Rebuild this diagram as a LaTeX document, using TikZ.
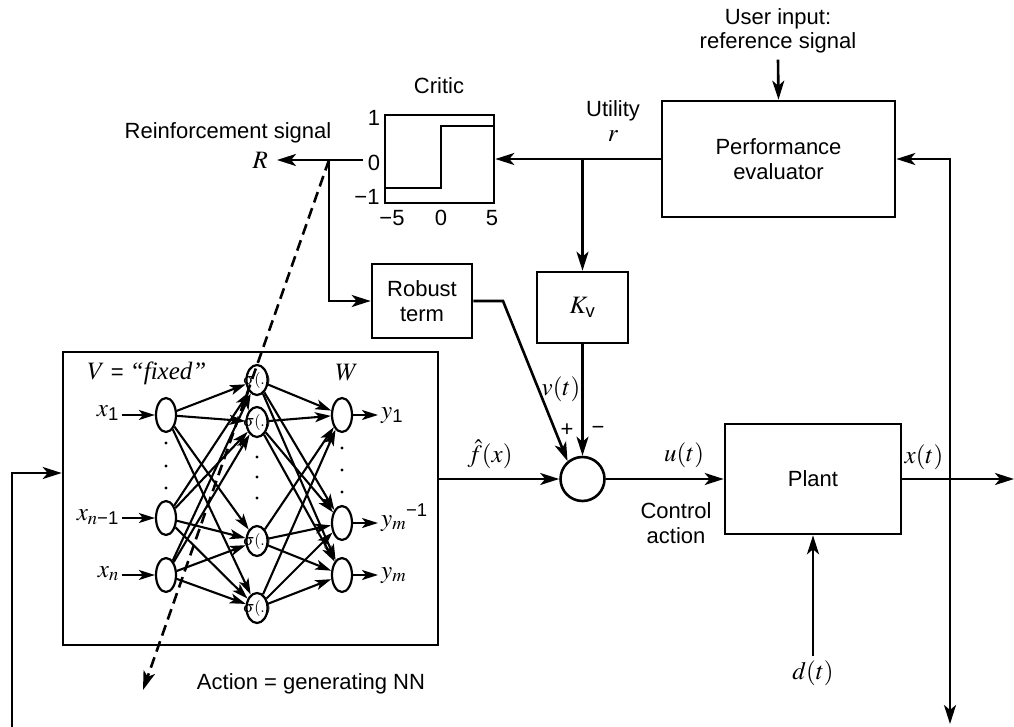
\documentclass[tikz,border=0pt]{standalone}
\usepackage{mathptmx}
\usepackage{fontspec}
\usepackage{amsmath}
\setmainfont{Liberation Sans}
\newfontfamily\serif{Liberation Serif}
\newcommand{\bigmath}{\fontsize{25}{27}\selectfont}
\usetikzlibrary{arrows.meta,shapes.geometric}

\begin{document}
\begin{tikzpicture}[x=1pt,y=-1pt,
  every node/.style={font=\fontsize{22}{24.5}\selectfont, inner sep=0pt, align=center},
  mlab/.style={font=\bigmath},
  wire/.style={line width=2.6pt},
  arr/.style={wire,-{Stealth[length=19pt,width=12pt,inset=5pt]}},
  nnarr/.style={line width=2.1pt,-{Stealth[length=16pt,width=10pt,inset=4pt]}},
  blockbox/.style={draw,rectangle,line width=2.6pt},
  neuron/.style={draw,ellipse,line width=2.2pt,minimum width=20pt,minimum height=34pt},
  hidden/.style={draw,ellipse,line width=2.2pt,minimum width=21pt,minimum height=30pt},
  sig/.style={font=\fontsize{16}{16}\selectfont},
  dotmark/.style={fill=black}]
\useasboundingbox (0,0) rectangle (1014,727);

% ---- blocks ----
\node[blockbox,minimum width=233pt,minimum height=116pt] (pe) at (778.5,159) {Performance\\evaluator};
\node (user) at (778,31) {User input:\\reference signal};
\node[blockbox,minimum width=109pt,minimum height=88pt] (critic) at (439.5,159) {};
\node (crit) at (439,86) {Critic};
\node[blockbox,minimum width=100pt,minimum height=74pt] (robust) at (422,301) {Robust\\term};
\node[blockbox,minimum width=91pt,minimum height=71pt,mlab] (kv) at (582.5,307.5) {$K_{\text{v}}$};
\node[draw,circle,line width=2.6pt,minimum size=44pt] (sum) at (582.5,479) {};
\node[blockbox,minimum width=176pt,minimum height=110pt] (plant) at (813,479) {Plant};
\node[blockbox,minimum width=375pt,minimum height=293pt] (nn) at (250.5,498.5) {};

% ---- critic characteristic ----
\draw[wire] (385,188) -- (441,188) -- (441,126) -- (494,126);
\node (t1) at (374,118) {1};
\node (t0) at (374,163) {0};
\node (tm1) at (367,197) {−1};
\node (bm5) at (392,218) {−5};
\node (b0) at (441,218) {0};
\node (b5) at (492,218) {5};

% ---- labels ----
\node (reinf) at (228,133) {Reinforcement signal};
\node[anchor=east,mlab] (R) at (268,160) {$R$};
\node (util) at (613,121) {Utility\\{\bigmath$r$}};
\node[mlab] (vt) at (561,389) {$v(t)$};
\node (plus) at (567,430) {+};
\node (minus) at (598,430) {−};
\node[mlab] (fhat) at (490,454) {$\hat{f}(x)$};
\node[mlab] (ut) at (684,455) {$u(t)$};
\node (ctrl) at (676,523) {Control\\action};
\node[mlab] (xt) at (924,457) {$x(t)$};
\node[mlab] (dt) at (813,673) {$d(t)$};
\node (act) at (311,684) {Action = generating NN};

% ---- connector end points ----
\coordinate (rtip) at (277,160);
\coordinate (cout) at (363,160);
\coordinate (rj) at (329,160);
\coordinate (uj) at (582.5,159);
\coordinate (bend) at (503,301);
\coordinate (xtap) at (950,479);
\coordinate (fbbot) at (950,724);
\coordinate (xout) at (1014,479);
\coordinate (lfb) at (12,727);
\coordinate (dashend) at (143,690);

% ---- connectors ----
\draw[arr] ([yshift=-6pt]user.south) -- (pe.north);
\draw[arr] (pe.west) -- (critic.east);
\draw[arr] (uj) -- (kv.north);
\draw[arr] (cout) -- (rtip);
\draw[arr] (rj) |- (robust.west);
\draw[arr] (robust.east) -- (bend) -- (sum.130);
\draw[arr] (kv.south) -- (sum.north);
\draw[arr] (nn.east |- sum.west) -- (sum.west);
\draw[arr] (sum.east) -- (plant.west);
\draw[arr] (plant.east) -- (xout);
\draw[arr] (xtap) |- (pe.east);
\draw[arr] (xtap) -- (fbbot);
\draw[arr] ([yshift=4pt]dt.north) -- (dt.north |- plant.south);
\draw[arr] (lfb) |- ([yshift=25.5pt]nn.west);

% ---- neural network ----
\node (vfix) at (147,373) {{\bigmath$V$} = {\serif\itshape\bigmath “fixed”}};
\node[mlab] (wlab) at (347,373) {$W$};

\node[neuron] (i1) at (166,415) {};
\node[neuron] (i2) at (166,518) {};
\node[neuron] (i3) at (166,575) {};
\node[hidden] (h1) at (257,380) {};
\node[hidden] (h2) at (257,422) {};
\node[hidden] (h3) at (257,541) {};
\node[hidden] (h4) at (257,608) {};
\node[neuron] (o1) at (342,415) {};
\node[neuron] (o2) at (342,523) {};
\node[neuron] (o3) at (342,575) {};

\foreach \h in {1,2,3,4} \node[sig] (s\h) at (h\h) {$\sigma(.)$};

\foreach \i in {i1,i2,i3}
  \foreach \h in {h1,h2,h3,h4}
    \draw[nnarr] (\i) -- (\h);
\foreach \h in {h1,h2,h3,h4}
  \foreach \o in {o1,o2,o3}
    \draw[nnarr] (\h) -- (\o);

\foreach \y in {443,466,488} \fill[dotmark] (166,\y) circle (1.6pt);
\foreach \y in {457,477,498} \fill[dotmark] (257,\y) circle (1.6pt);
\foreach \y in {448,470,492} \fill[dotmark] (342,\y) circle (1.6pt);

\node[anchor=base east,mlab] (x1) at (119,416) {$x_{\text{1}}$};
\node[anchor=base east,mlab] (x2) at (119,520) {$x_{n\text{−1}}$};
\node[anchor=base east,mlab] (x3) at (119,577) {$x_n$};
\node[anchor=base west,mlab] (y1) at (381,418) {$y_{\text{1}}$};
\node[anchor=base west,mlab] (y2) at (381,526) {$y_m{}^{\text{−1}}$};
\node[anchor=base west,mlab] (y3) at (381,578) {$y_m$};

\draw[nnarr] ([xshift=3pt]x1.east |- i1) -- (i1);
\draw[nnarr] ([xshift=3pt]x2.east |- i2) -- (i2);
\draw[nnarr] ([xshift=3pt]x3.east |- i3) -- (i3);
\draw[nnarr] (o1) -- ([xshift=-3pt]y1.west |- o1);
\draw[nnarr] (o2) -- ([xshift=-3pt]y2.west |- o2);
\draw[nnarr] (o3) -- ([xshift=-3pt]y3.west |- o3);

% ---- reinforcement path into the network ----
\draw[wire,dash pattern=on 11pt off 6pt,-{Stealth[length=19pt,width=12pt,inset=5pt]}] (rj) -- (dashend);
\end{tikzpicture}
\end{document}
